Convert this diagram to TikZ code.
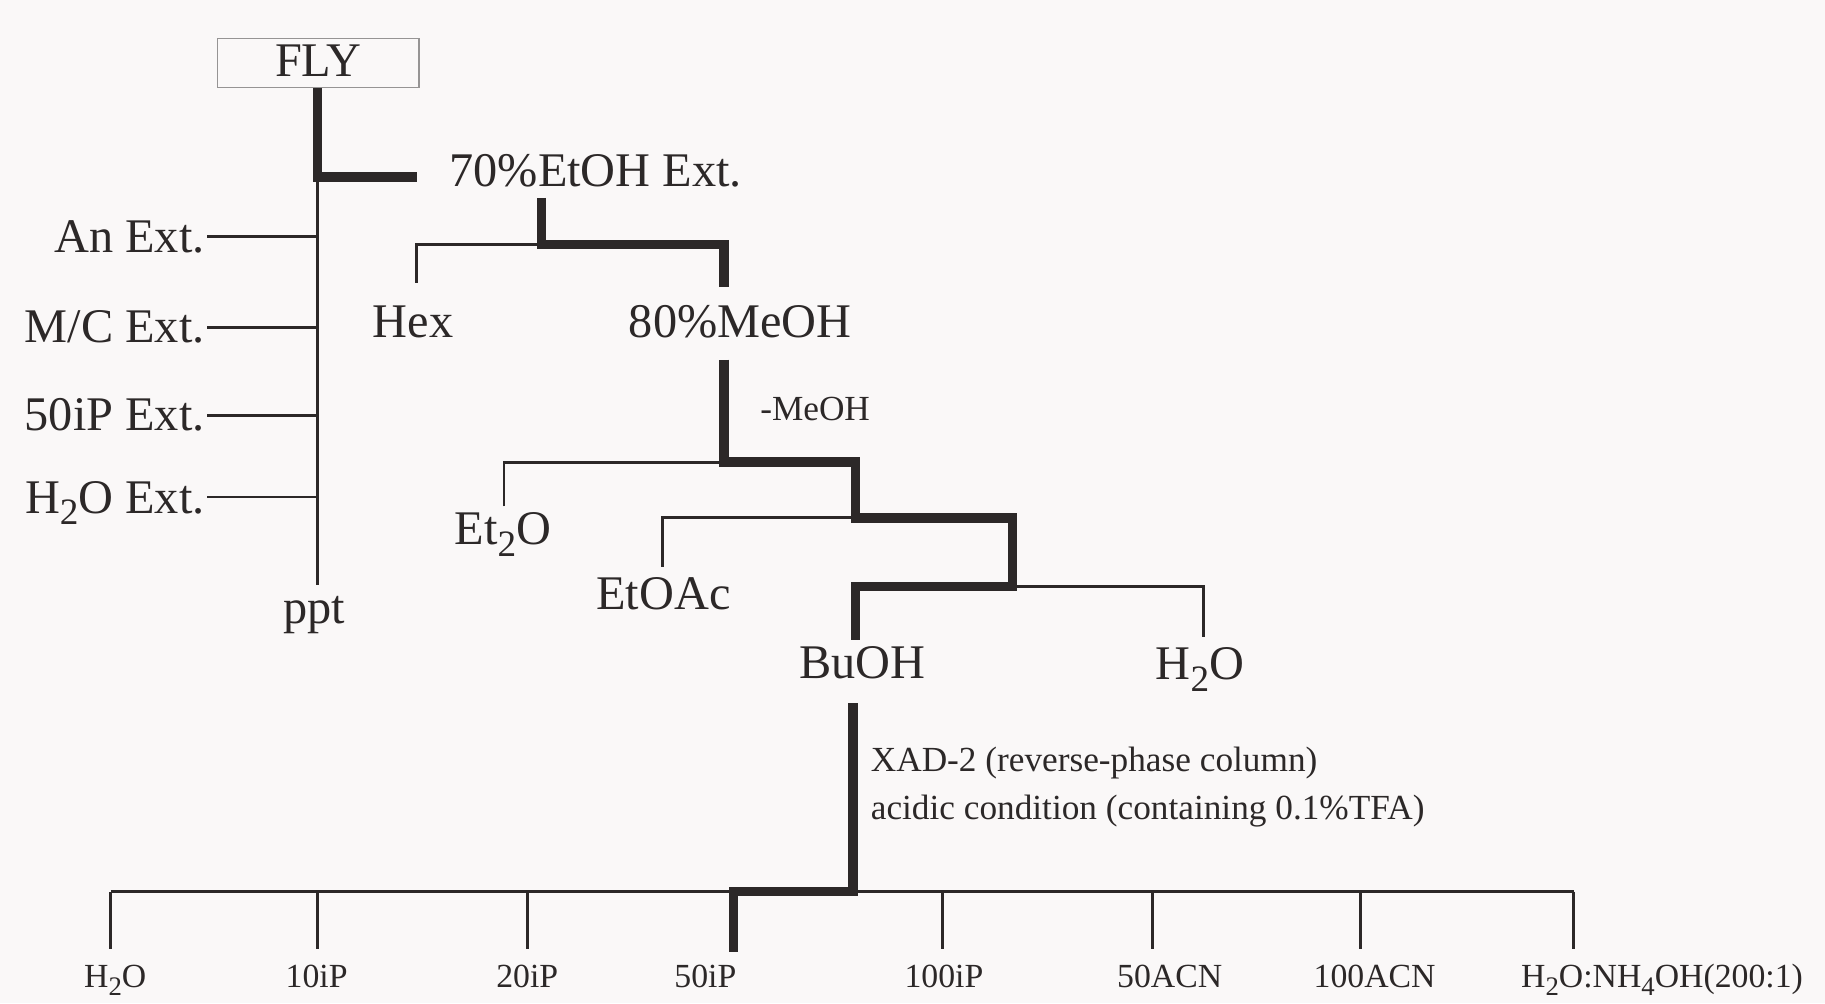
\documentclass[tikz,border=0pt]{standalone}
\usepackage{fontspec}
\setmainfont{Liberation Serif}
\definecolor{ink}{RGB}{44,40,40}
\definecolor{paper}{RGB}{250,248,248}
\definecolor{boxline}{RGB}{150,148,148}
\newcommand\sbig[1]{\raisebox{-10pt}{\fontsize{32}{32}\selectfont #1}}
\newcommand\ssml[1]{\raisebox{-7pt}{\fontsize{23}{23}\selectfont #1}}
\begin{document}
\begin{tikzpicture}[x=1pt,y=-1pt,
  lbl/.style={font=\fontsize{41.5}{44}\selectfont, text=ink, inner sep=0pt},
  sml/.style={font=\fontsize{29}{32}\selectfont, text=ink, inner sep=0pt},
  note/.style={font=\fontsize{30.3}{33}\selectfont, text=ink, inner sep=0pt},
  thinln/.style={draw=ink, line width=2.5pt, line join=miter},
  boldln/.style={draw=ink, line width=8pt, line join=miter},
]
\fill[paper] (0,0) rectangle (1568,862);
\useasboundingbox (0,0) rectangle (1568,862);

% ---------- nodes ----------
\node[lbl, draw=boxline, line width=1.2pt, minimum width=173pt, minimum height=42pt] (fly) at (273.5,54) {};
\node[lbl, anchor=base] (flyt) at (273.5,66) {FLY};
\node[lbl, anchor=base west] (etoh) at (386,160) {70\%EtOH Ext.};
\node[lbl, anchor=base east] (anext) at (176,217) {An Ext.};
\node[lbl, anchor=base east] (mcext) at (176,294) {M/C Ext.};
\node[lbl, anchor=base east] (ipext) at (176,370) {50iP Ext.};
\node[lbl, anchor=base east] (hext) at (176,441) {H\sbig{2}O Ext.};
\node[lbl, anchor=base] (ppt) at (270,536) {ppt};
\node[lbl, anchor=base] (hex) at (355,290) {Hex};
\node[lbl, anchor=base] (meoh) at (636,290) {80\%MeOH};
\node[note, anchor=base west] (mmeoh) at (653,361) {-MeOH};
\node[lbl, anchor=base] (et2o) at (432,468) {Et\sbig{2}O};
\node[lbl, anchor=base] (etoac) at (570,524) {EtOAc};
\node[lbl, anchor=base] (buoh) at (741,583) {BuOH};
\node[lbl, anchor=base] (water) at (1031,584) {H\sbig{2}O};
\node[note, anchor=base west] (xad1) at (748,663) {XAD-2 (reverse-phase column)};
\node[note, anchor=base west] (xad2) at (748,704) {acidic condition (containing 0.1\%TFA)};

\node[sml, anchor=base] (f1) at (99,848) {H\ssml{2}O};
\node[sml, anchor=base] (f2) at (272,848) {10iP};
\node[sml, anchor=base] (f3) at (453,848) {20iP};
\node[sml, anchor=base] (f4) at (606,848) {50iP};
\node[sml, anchor=base] (f5) at (811,848) {100iP};
\node[sml, anchor=base] (f6) at (1005,848) {50ACN};
\node[sml, anchor=base] (f7) at (1181,848) {100ACN};
\node[sml, anchor=base] (f8) at (1428,848) {H\ssml{2}O:NH\ssml{4}OH(200:1)};

% ---------- junction coordinates ----------
\coordinate (jA) at (273,152);
\coordinate (jAe) at (358,152);
\coordinate (mbot) at (273,503);
\coordinate (jB) at (465,210);
\coordinate (jBt) at (465,170);
\coordinate (jBh) at (358,210);
\coordinate (jBm) at (622,210);
\coordinate (hexTop) at (358,243);
\coordinate (meohTop) at (622,247);
\coordinate (meohBot) at (622,309);
\coordinate (jC) at (622,397);
\coordinate (et2oTop) at (433,435);
\coordinate (jD) at (735,445);
\coordinate (etoacTop) at (569,487);
\coordinate (jE) at (870,504);
\coordinate (buohTop) at (735,550);
\coordinate (h2oTop) at (1034,547);
\coordinate (buohBot) at (733,604);
\coordinate (jF) at (733,766);
\coordinate (jG) at (630,766);
\coordinate (barL) at (95,766);
\coordinate (barR) at (1352,766);

% ---------- connectors ----------
% FLY -> 70% EtOH Ext.
\draw[boldln] (fly.south -| jA) -- (jA) -- (jAe);
% main thin line down to ppt
\draw[thinln] (jA) -- (mbot);
\foreach \nm/\yy in {anext/203,mcext/281,ipext/357,hext/427}
  \draw[thinln] ([xshift=2pt]\nm.east |- 0,\yy) -- (jA |- 0,\yy);

% 70% EtOH -> Hex / 80% MeOH
\draw[thinln] (hexTop) -- (jBh) -- (jB);
\draw[boldln] (jBt) -- (jB) -- (jBm) -- (meohTop);

% 80% MeOH -> Et2O / EtOAc / BuOH / H2O
\draw[thinln] (et2oTop) -- (et2oTop |- jC) -- (jC);
\draw[thinln] (etoacTop) -- (etoacTop |- jD) -- (jD);
\draw[thinln] (jE) -- (h2oTop |- jE) -- (h2oTop);
\draw[boldln] (meohBot) -- (jC) -- (jC -| jD) -- (jD) -- (jD -| jE) -- (jE) -- (jE -| buohTop) -- (buohTop);

% BuOH -> fractions
\draw[thinln] (barL) -- (barR);
\foreach \xx in {95,273,453,810,990,1169,1352}
  \draw[thinln] (\xx,766) -- (\xx,815);
\draw[boldln] (buohBot) -- (jF) -- (jG) -- (630,818);
\end{tikzpicture}
\end{document}
